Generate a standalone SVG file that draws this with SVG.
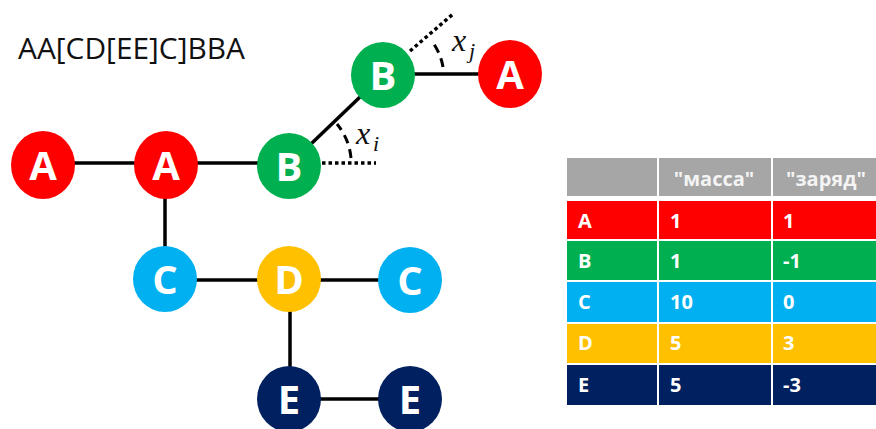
<svg xmlns="http://www.w3.org/2000/svg" width="876" height="429" viewBox="0 0 876 429">
<defs>
<style>
.edge{stroke:#000;stroke-width:3.5;fill:none}
.dot{stroke:#000;stroke-width:3.5;fill:none;stroke-dasharray:3.5 3}
.arc{stroke:#000;stroke-width:3;fill:none;stroke-dasharray:9 6}
.nl{font-family:"Open Sans","Liberation Sans",sans-serif;font-weight:bold;font-size:40px;fill:#fff;text-anchor:middle}
.title{font-family:"Open Sans","Liberation Sans",sans-serif;font-size:29px;fill:#111}
.math{font-family:"Liberation Serif",serif;font-style:italic;fill:#111}
.th{font-family:"Open Sans","Liberation Sans",sans-serif;font-weight:bold;font-size:20px;fill:#f4f4f4}
.td{font-family:"Open Sans","Liberation Sans",sans-serif;font-weight:bold;font-size:20px;fill:#fff}
.red{fill:#ff0000}.green{fill:#00b050}.blue{fill:#00b0f0}.gold{fill:#ffc000}.navy{fill:#002060}.gray{fill:#a6a6a6}
</style>
</defs>
<rect width="876" height="429" fill="#fff"/>
<text class="title" x="18" y="59" textLength="227" lengthAdjust="spacingAndGlyphs">AA[CD[EE]C]BBA</text>
<g id="connectors">
<line class="edge" x1="43" y1="163" x2="289" y2="163"/>
<line class="edge" x1="165" y1="165" x2="165" y2="279"/>
<line class="edge" x1="165" y1="280" x2="410" y2="280"/>
<line class="edge" x1="290" y1="279" x2="290" y2="399"/>
<line class="edge" x1="289" y1="399" x2="410" y2="399"/>
<line class="edge" x1="289" y1="165" x2="383" y2="75"/>
<line class="edge" x1="383" y1="74" x2="510" y2="74"/>
<line class="dot" x1="322" y1="163" x2="376" y2="163"/>
<line class="dot" x1="410" y1="51" x2="453" y2="14"/>
<path class="arc" d="M 351 158 A 62 62 0 0 0 337 124"/>
<path class="arc" d="M 443 67 A 60 60 0 0 0 431 40"/>
</g>
<g id="node-A1"><ellipse class="red" cx="43" cy="165" rx="32" ry="34"/><text class="nl" x="43" y="180">A</text></g>
<g id="node-A2"><ellipse class="red" cx="166" cy="165" rx="32" ry="34"/><text class="nl" x="166" y="180">A</text></g>
<g id="node-B1"><ellipse class="green" cx="289" cy="166" rx="32" ry="33"/><text class="nl" x="289" y="181">B</text></g>
<g id="node-B2"><ellipse class="green" cx="383" cy="75" rx="32" ry="33"/><text class="nl" x="383" y="90">B</text></g>
<g id="node-A3"><ellipse class="red" cx="510" cy="74" rx="32" ry="34"/><text class="nl" x="510" y="89">A</text></g>
<g id="node-C1"><ellipse class="blue" cx="165" cy="279" rx="32" ry="33"/><text class="nl" x="165" y="294">C</text></g>
<g id="node-D"><ellipse class="gold" cx="289" cy="279" rx="32" ry="33"/><text class="nl" x="289" y="294">D</text></g>
<g id="node-C2"><ellipse class="blue" cx="410" cy="280" rx="32" ry="33"/><text class="nl" x="410" y="295">C</text></g>
<g id="node-E1"><ellipse class="navy" cx="289" cy="399" rx="32" ry="33"/><text class="nl" x="289" y="414">E</text></g>
<g id="node-E2"><ellipse class="navy" cx="410" cy="399" rx="32" ry="33"/><text class="nl" x="410" y="414">E</text></g>
<g id="label-xi"><text class="math" x="356" y="144" font-size="32">x</text><text class="math" x="373" y="151" font-size="22">i</text></g>
<g id="label-xj"><text class="math" x="452" y="51" font-size="32">x</text><text class="math" x="469" y="58" font-size="22">j</text></g>
<g id="table">
<rect class="gray" x="567" y="158" width="90" height="38"/>
<rect class="gray" x="659" y="158" width="112" height="38"/>
<rect class="gray" x="773" y="158" width="110" height="38"/>
<rect class="red" x="567" y="201" width="90" height="38"/>
<rect class="red" x="659" y="201" width="112" height="38"/>
<rect class="red" x="773" y="201" width="110" height="38"/>
<rect class="green" x="567" y="241" width="90" height="39"/>
<rect class="green" x="659" y="241" width="112" height="39"/>
<rect class="green" x="773" y="241" width="110" height="39"/>
<rect class="blue" x="567" y="282" width="90" height="40"/>
<rect class="blue" x="659" y="282" width="112" height="40"/>
<rect class="blue" x="773" y="282" width="110" height="40"/>
<rect class="gold" x="567" y="324" width="90" height="39"/>
<rect class="gold" x="659" y="324" width="112" height="39"/>
<rect class="gold" x="773" y="324" width="110" height="39"/>
<rect class="navy" x="567" y="365" width="90" height="40"/>
<rect class="navy" x="659" y="365" width="112" height="40"/>
<rect class="navy" x="773" y="365" width="110" height="40"/>
<text class="th" x="714" y="186" text-anchor="middle">"масса"</text>
<text class="th" x="826" y="186" text-anchor="middle">"заряд"</text>
<text class="td" x="578" y="228">A</text><text class="td" x="670" y="228">1</text><text class="td" x="783" y="228">1</text>
<text class="td" x="578" y="268">B</text><text class="td" x="670" y="268">1</text><text class="td" x="783" y="268">-1</text>
<text class="td" x="578" y="309">C</text><text class="td" x="670" y="309">10</text><text class="td" x="783" y="309">0</text>
<text class="td" x="578" y="350">D</text><text class="td" x="670" y="350">5</text><text class="td" x="783" y="350">3</text>
<text class="td" x="578" y="392">E</text><text class="td" x="670" y="392">5</text><text class="td" x="783" y="392">-3</text>
</g>
</svg>
